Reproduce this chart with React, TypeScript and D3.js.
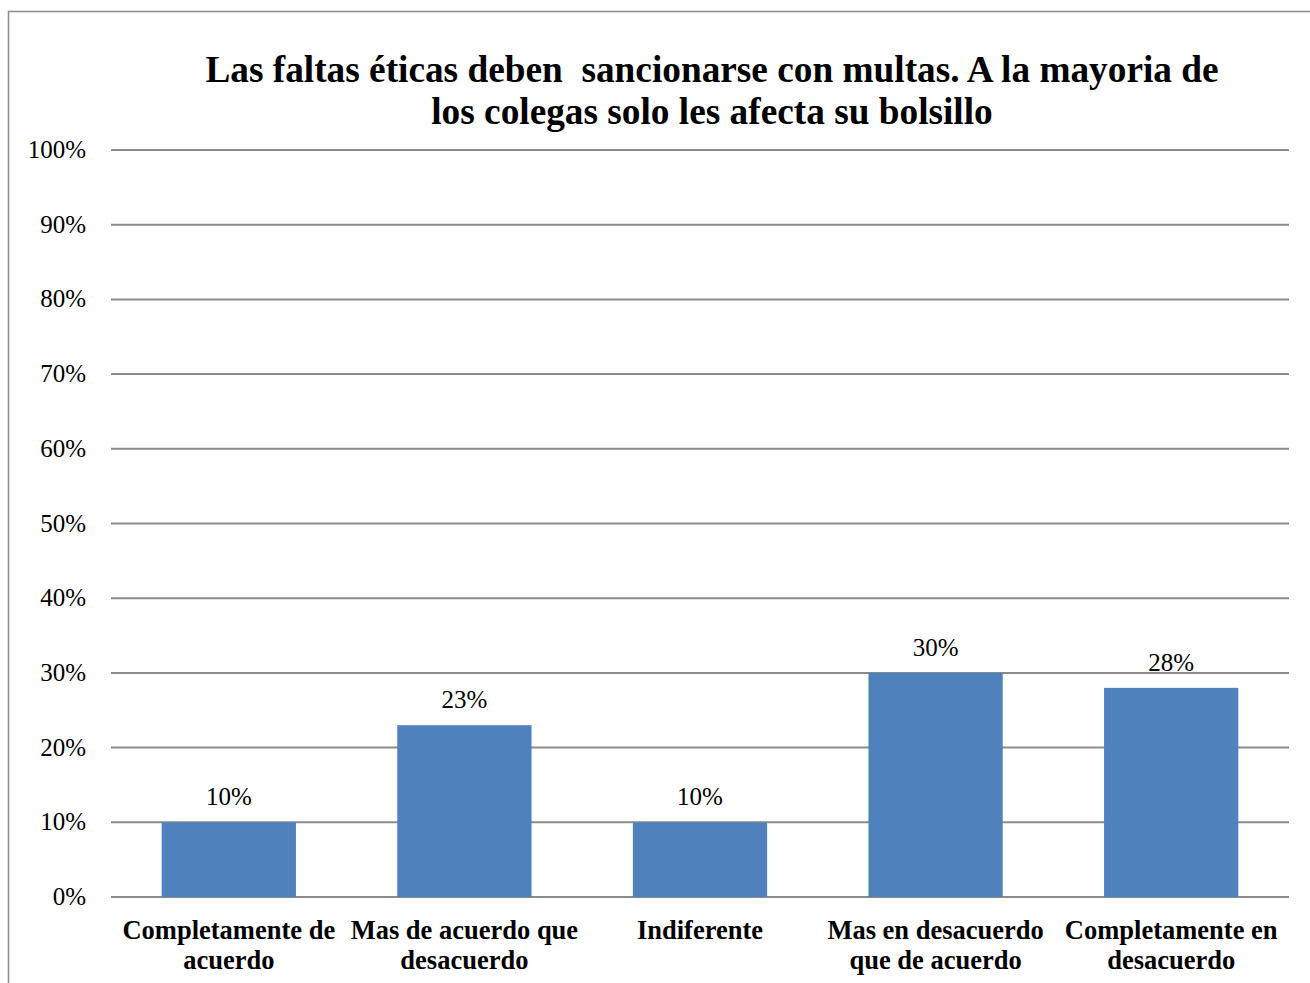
import React from "react";
import * as d3 from "d3";

const categories: string[][] = [
  ["Completamente de", "acuerdo"],
  ["Mas de acuerdo que", "desacuerdo"],
  ["Indiferente"],
  ["Mas en desacuerdo", "que de acuerdo"],
  ["Completamente en", "desacuerdo"],
];
const values: number[] = [10, 23, 10, 30, 28];
const yTicks: number[] = [0, 10, 20, 30, 40, 50, 60, 70, 80, 90, 100];
const titleLines: string[] = [
  "Las faltas éticas deben  sancionarse con multas. A la mayoria de",
  "los colegas solo les afecta su bolsillo",
];

const W = 1310;
const H = 983;
const left = 111;
const right = 1289;
const top = 150;
const bottom = 897;
const font = "'Liberation Serif', 'Times New Roman', serif";

export default function App() {
  const x = d3
    .scaleBand<number>()
    .domain(d3.range(values.length))
    .range([left, right])
    .paddingInner(0.43)
    .paddingOuter(0.215);
  const y = d3.scaleLinear().domain([0, 100]).range([bottom, top]);
  const bandStep = (right - left) / values.length;

  return (
    <svg
      width={W}
      height={H}
      style={{ position: "absolute", left: 0, top: 0, background: "#fff", fontFamily: font }}
    >
      <rect x={8.5} y={11.5} width={W + 20} height={H + 20} fill="#fff" stroke="#8c8c8c" strokeWidth={1.5} />
      {titleLines.map((t, i) => (
        <text
          key={i}
          x={712}
          y={82 + i * 42}
          textAnchor="middle"
          fontSize={37.3}
          fontWeight="bold"
          style={{ whiteSpace: "pre", fontFamily: font }}
        >
          {t}
        </text>
      ))}
      {yTicks.map((t) => (
        <g key={t}>
          <line x1={left} x2={right} y1={y(t)} y2={y(t)} stroke="#8a8a8a" strokeWidth={2} />
          <text x={86} y={y(t) + 8} textAnchor="end" fontSize={25} style={{ fontFamily: font }}>
            {t}%
          </text>
        </g>
      ))}
      {values.map((v, i) => (
        <g key={i}>
          <rect x={x(i)!} y={y(v)} width={x.bandwidth()} height={y(0) - y(v)} fill="#4f81bd" />
          <text
            x={x(i)! + x.bandwidth() / 2}
            y={y(v) - 17}
            textAnchor="middle"
            fontSize={25}
            style={{ fontFamily: font }}
          >
            {v}%
          </text>
        </g>
      ))}
      {categories.map((lines, i) => (
        <text
          key={i}
          x={left + bandStep * (i + 0.5)}
          y={939}
          textAnchor="middle"
          fontSize={26.5}
          fontWeight="bold"
          style={{ fontFamily: font }}
        >
          {lines.map((l, j) => (
            <tspan key={j} x={left + bandStep * (i + 0.5)} dy={j === 0 ? 0 : 29.5}>
              {l}
            </tspan>
          ))}
        </text>
      ))}
    </svg>
  );
}
